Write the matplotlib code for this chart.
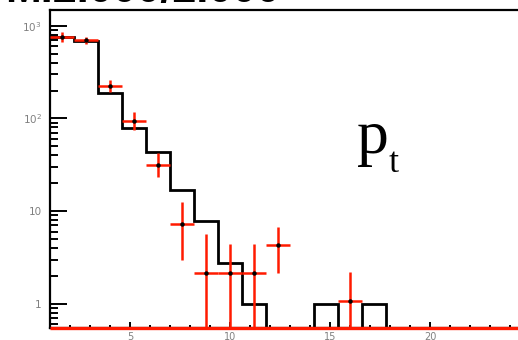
import numpy as np
import matplotlib
matplotlib.use("Agg")
import matplotlib.pyplot as plt
from matplotlib.ticker import FixedLocator, NullFormatter, LogLocator, MultipleLocator

# Binning of the p_t histogram: 20 bins of width 1.2 from 1 to 25
bin_edges = [1.0 + 1.2 * i for i in range(21)]

# Expected (MC) yields per bin
mc_counts = [750, 690, 188, 78, 43.4, 16.9, 7.8, 2.75, 1.0, 0,
             0, 1.0, 0, 1.0, 0, 0, 0, 0, 0, 0]

# Observed yields per bin with their lower / upper error bounds
data_counts = [755, 694, 223, 93, 31.4, 7.3, 2.15, 2.15, 2.15, 4.3,
               0, 0, 1.07, 0, 0, 0, 0, 0, 0, 0]
data_low = [668, 640, 193, 75, 23.3, 2.96, 0.3, 0.3, 0.3, 2.15,
            0, 0, 0.3, 0, 0, 0, 0, 0, 0, 0]
data_high = [850, 755, 260, 118, 42.4, 12.5, 5.66, 4.42, 4.42, 6.73,
             0, 0, 2.2, 0, 0, 0, 0, 0, 0, 0]

y_ticks = [1, 10, 100, 1000]
y_tick_labels = ["1", "10", r"$\mathdefault{10^{2}}$", r"$\mathdefault{10^{3}}$"]
x_ticks = [5, 10, 15, 20]
x_tick_labels = ["5", "10", "15", "20"]

title_text = "M.2.000/2.000"

W, H = 518, 340
fig = plt.figure(figsize=(W / 100, H / 100), dpi=100)
ax = fig.add_axes([50 / W, 12 / H, 480 / W, 318 / H])

ax.set_yscale("log")
ax.set_xlim(1.0, 25.0)
ax.set_ylim(0.547, 1479)

edges = np.array(bin_edges)
centers = 0.5 * (edges[:-1] + edges[1:])
half_w = 0.5 * (edges[1:] - edges[:-1])

red = "#ff1a00"
ymin = ax.get_ylim()[0]

# Red baseline of the observed histogram along the lower frame edge
ax.plot([edges[0], edges[-1]], [ymin, ymin], color=red, linewidth=2.4,
        solid_capstyle="butt", clip_on=False, zorder=5)

# MC histogram as a step line; empty bins fall below the frame
mc = np.array(mc_counts, dtype=float)
mc_plot = np.where(mc > 0, mc, 1e-3)
ax.stairs(mc_plot, edges, baseline=None, color="black", linewidth=2.0, zorder=3)

# Observed points with error bars
d = np.array(data_counts, dtype=float)
lo = np.array(data_low, dtype=float)
hi = np.array(data_high, dtype=float)
nz = d > 0
ax.errorbar(centers[nz], d[nz], xerr=half_w[nz],
            yerr=[d[nz] - lo[nz], hi[nz] - d[nz]],
            fmt="o", color=red, ecolor=red, elinewidth=1.8, capsize=0,
            markersize=2.2, markerfacecolor="black", markeredgecolor="black",
            zorder=4)

# Axes styling
for side in ("left", "top", "bottom"):
    ax.spines[side].set_linewidth(1.6)
    ax.spines[side].set_color("black")
ax.spines["right"].set_visible(False)

ax.yaxis.set_major_locator(FixedLocator(y_ticks))
ax.set_yticklabels(y_tick_labels)
ax.yaxis.set_minor_locator(LogLocator(base=10, subs=np.arange(2, 10)))
ax.yaxis.set_minor_formatter(NullFormatter())

ax.xaxis.set_major_locator(FixedLocator(x_ticks))
ax.set_xticklabels(x_tick_labels)
ax.xaxis.set_minor_locator(MultipleLocator(1))

ax.tick_params(axis="y", which="major", direction="in", length=12, width=1.4,
               labelsize=7.5, labelcolor="#808080", pad=6)
ax.tick_params(axis="y", which="minor", direction="in", length=5.5, width=1.4)
ax.tick_params(axis="x", which="major", direction="in", length=4.3, width=1.4,
               labelsize=7, labelcolor="#808080", pad=3)
ax.tick_params(axis="x", which="minor", direction="in", length=2.2, width=1.4)
ax.tick_params(top=False, right=False, which="both")

# Variable label
ax.text((357 - 50) / 480, 1 - (153 - 10) / 318, "p",
        transform=ax.transAxes, fontsize=46, family="Liberation Serif",
        ha="left", va="baseline")
ax.text((389 - 50) / 480, 1 - (172 - 10) / 318, "t",
        transform=ax.transAxes, fontsize=26, family="Liberation Serif",
        ha="left", va="baseline")

# Title, mostly above the canvas
fig.text(5 / W, 1 - 2 / H, title_text, fontsize=31, fontweight="bold",
         family="Liberation Sans", ha="left", va="baseline")

fig.savefig("out.png", dpi=100)
